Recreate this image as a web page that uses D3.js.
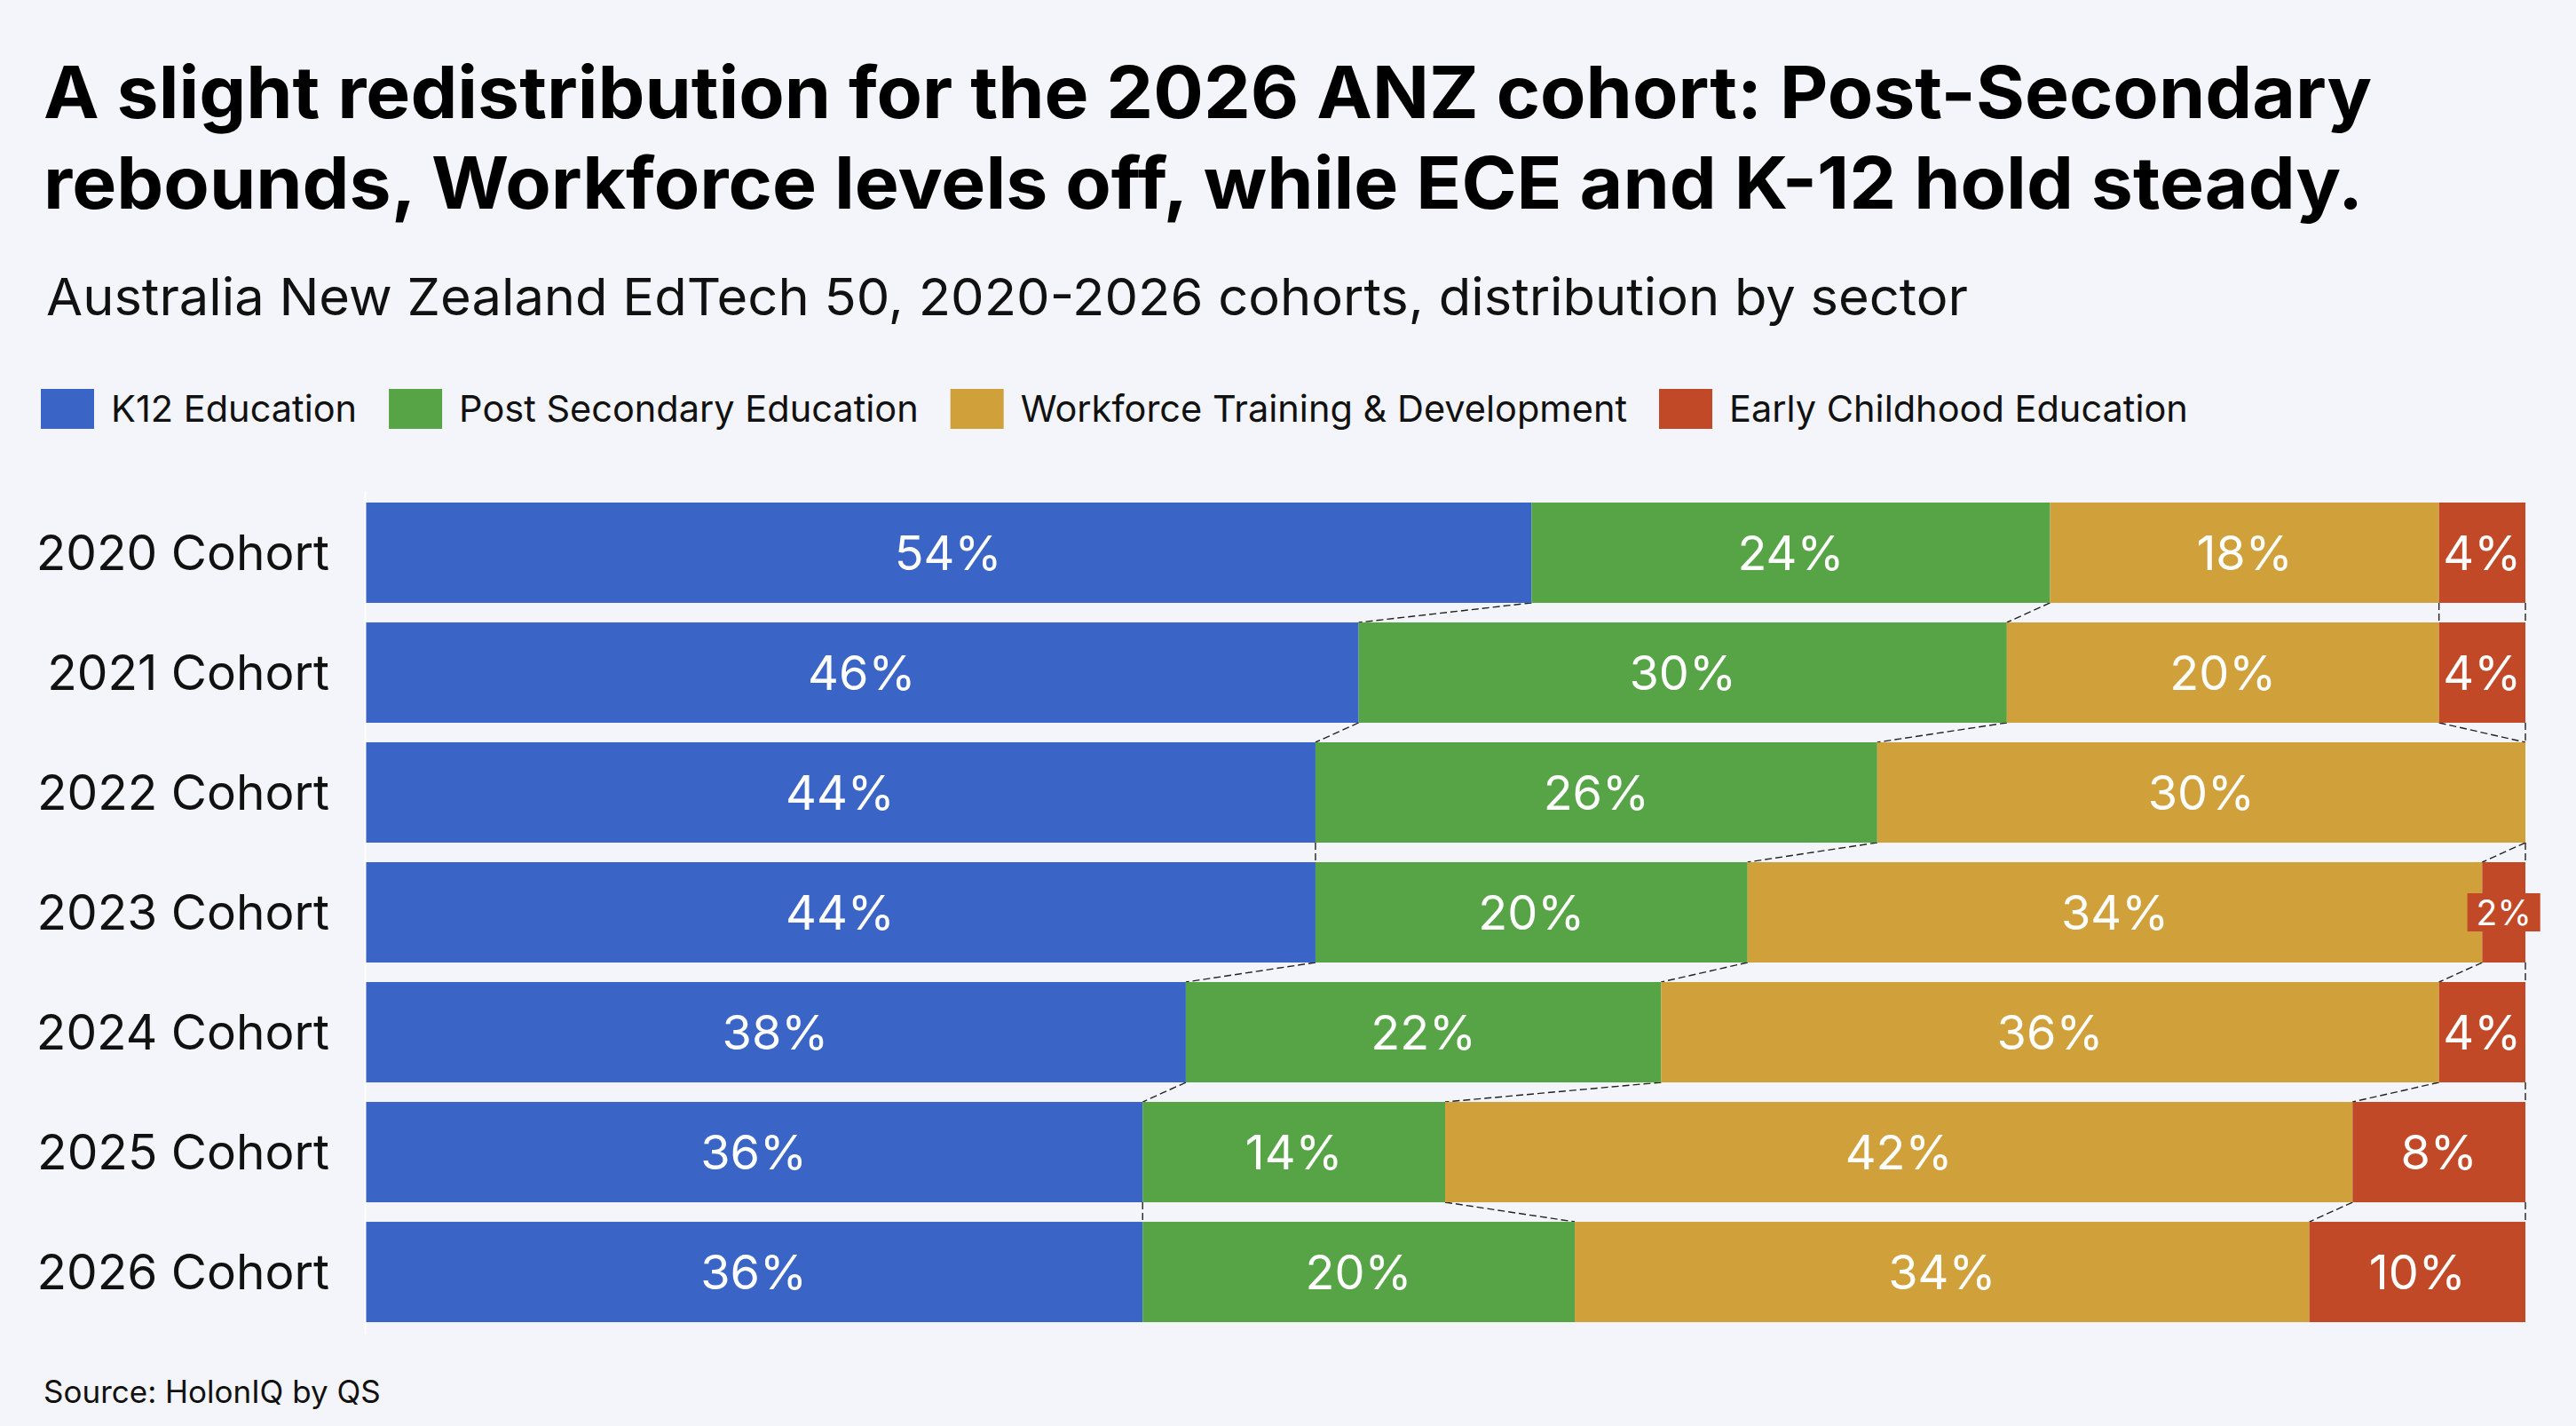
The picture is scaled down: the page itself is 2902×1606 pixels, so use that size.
<!DOCTYPE html>
<html>
<head>
<meta charset="utf-8">
<script src="https://cdn.jsdelivr.net/npm/d3@7"></script>
<style>
  html, body { margin: 0; padding: 0; background: #f4f5fa; }
  svg { display: block; font-family: Inter, "Noto Sans", sans-serif; }
</style>
</head>
<body>
<svg id="chart"></svg>
<script>
// data
const cohorts = ['2020 Cohort', '2021 Cohort', '2022 Cohort', '2023 Cohort', '2024 Cohort', '2025 Cohort', '2026 Cohort'];
const sectors = ['K12 Education', 'Post Secondary Education', 'Workforce Training & Development', 'Early Childhood Education'];
const k12 = [54, 46, 44, 44, 38, 36, 36];
const postSecondary = [24, 30, 26, 20, 22, 14, 20];
const workforce = [18, 20, 30, 34, 36, 42, 34];
const earlyChildhood = [4, 4, 0, 2, 4, 8, 10];
const sectorColors = ['#3a64c6', '#57a447', '#d0a03a', '#c24927'];

const titleLines = [
  'A slight redistribution for the 2026 ANZ cohort: Post-Secondary',
  'rebounds, Workforce levels off, while ECE and K-12 hold steady.'
];
const subtitle = 'Australia New Zealand EdTech 50, 2020-2026 cohorts, distribution by sector';
const source = 'Source: HolonIQ by QS';

const W = 2902, H = 1606;
const svg = d3.select('#chart').attr('width', W).attr('height', H);
svg.append('rect').attr('width', W).attr('height', H).attr('fill', '#f4f5fa');

// squeeze a text node to a given width if the local font runs wider/narrower
function fitWidth(sel, target) {
  const w = sel.node().getComputedTextLength();
  if (Math.abs(w - target) > 4) sel.attr('textLength', target).attr('lengthAdjust', 'spacingAndGlyphs');
}

// titles
const t1 = svg.append('text').attr('x', 49).attr('y', 133)
  .style('font-size', '81px').style('font-weight', 700).attr('fill', '#000').text(titleLines[0]);
fitWidth(t1, 2623);
const t2 = svg.append('text').attr('x', 49).attr('y', 235)
  .style('font-size', '81px').style('font-weight', 700).attr('fill', '#000').text(titleLines[1]);
fitWidth(t2, 2613);
const st = svg.append('text').attr('x', 52).attr('y', 355)
  .style('font-size', '58px').style('font-weight', 400).attr('fill', '#111').text(subtitle);
fitWidth(st, 2165);

// legend
const legend = svg.append('g').attr('transform', 'translate(46,438)');
let lx = 0;
sectors.forEach((s, i) => {
  const g = legend.append('g').attr('transform', `translate(${lx},0)`);
  g.append('rect').attr('width', 60).attr('height', 45).attr('fill', sectorColors[i]);
  const t = g.append('text').attr('x', 79).attr('y', 37)
    .style('font-size', '41.5px').attr('fill', '#111').text(s);
  lx += 79 + t.node().getComputedTextLength() + 36;
});

// table for the stack
const table = cohorts.map((c, i) => ({
  cohort: c,
  [sectors[0]]: k12[i],
  [sectors[1]]: postSecondary[i],
  [sectors[2]]: workforce[i],
  [sectors[3]]: earlyChildhood[i]
}));
const series = d3.stack().keys(sectors)(table);

const x = d3.scaleLinear().domain([0, 100]).range([411, 2845]);
const y = d3.scaleBand().domain(cohorts).range([553, 1502])
  .paddingInner(0.163).paddingOuter(0.096);
const color = d3.scaleOrdinal().domain(sectors).range(sectorColors);

// dashed connectors between segment boundaries of neighbouring rows
const links = [];
series.forEach(s => {
  for (let i = 0; i < cohorts.length - 1; i++) {
    links.push({ x0: s[i][1], x1: s[i + 1][1], r0: cohorts[i], r1: cohorts[i + 1] });
  }
});
svg.append('g').selectAll('line').data(links).join('line')
  .attr('x1', d => x(d.x0)).attr('y1', d => y(d.r0) + y.bandwidth())
  .attr('x2', d => x(d.x1)).attr('y2', d => y(d.r1))
  .attr('stroke', '#222').attr('stroke-width', 1.4).attr('stroke-dasharray', '8,4');

// bars
const layer = svg.append('g').selectAll('g').data(series).join('g')
  .attr('fill', d => color(d.key));
layer.selectAll('rect').data(d => d).join('rect')
  .attr('x', d => x(d[0])).attr('y', d => y(d.data.cohort))
  .attr('width', d => x(d[1]) - x(d[0])).attr('height', y.bandwidth());

// y axis (cohort labels)
const yAxis = svg.append('g').attr('transform', `translate(${x(0)},0)`)
  .call(d3.axisLeft(y).tickSize(0).tickSizeOuter(0).tickPadding(40));
yAxis.select('.domain').attr('stroke', '#ffffff').attr('stroke-width', 2);
yAxis.selectAll('text').style('font-size', '55px').style('font-family', 'Inter, "Noto Sans", sans-serif')
  .attr('fill', '#111').attr('dy', '0.36em');

// value labels
const labels = svg.append('g');
series.forEach(s => {
  s.forEach(d => {
    const v = d[1] - d[0];
    if (v <= 0) return;
    const cx = (x(d[0]) + x(d[1])) / 2;
    const cy = y(d.data.cohort) + y.bandwidth() / 2;
    const segW = x(d[1]) - x(d[0]);
    const t = labels.append('text').attr('x', cx).attr('y', cy).attr('dy', '0.36em')
      .attr('text-anchor', 'middle').attr('fill', '#fff')
      .style('font-size', '54px').style('font-weight', 400).text(v + '%');
    if (t.node().getComputedTextLength() > segW) {
      // too narrow: smaller label on a box of the segment colour
      t.style('font-size', '39px');
      const bb = t.node().getBBox();
      labels.insert('rect', () => t.node())
        .attr('x', bb.x - 10).attr('y', cy - 21.5)
        .attr('width', bb.width + 20).attr('height', 43)
        .attr('fill', color(s.key));
    }
  });
});

// source
svg.append('text').attr('x', 49).attr('y', 1580)
  .style('font-size', '35px').attr('fill', '#111').text(source);
</script>
</body>
</html>
